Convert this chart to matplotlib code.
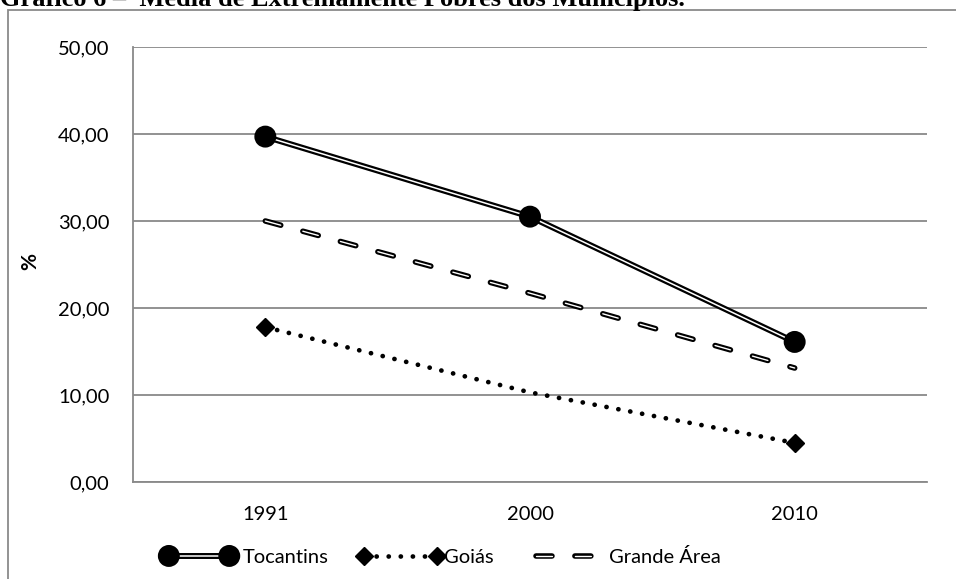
import matplotlib
matplotlib.use("Agg")
import matplotlib.pyplot as plt
import matplotlib.patheffects as pe
from matplotlib.ticker import FuncFormatter
from matplotlib.patches import Rectangle
from matplotlib.legend_handler import HandlerLine2D

plt.rcParams['lines.scale_dashes'] = False
plt.rcParams['font.family'] = ['Lato', 'DejaVu Sans']

categories = ["1991", "2000", "2010"]
tocantins = [39.7, 30.5, 16.1]
goias = [17.8, 10.3, 4.5]
grande_area = [30.0, 21.7, 13.1]
yticks = [0, 10, 20, 30, 40, 50]
title = "Gráfico 6 \u2013  Média de Extremamente Pobres dos Municípios."

W, H = 956, 579
fig = plt.figure(figsize=(W / 100, H / 100), dpi=100)
ax = fig.add_axes([133 / W, 1 - 482 / H, (927 - 133) / W, (482 - 47) / H])

x = list(range(len(categories)))

l1, = ax.plot(x, tocantins, color='white', lw=1.1, marker='o', markersize=11.5,
              markerfacecolor='black', markeredgecolor='black', solid_capstyle='butt',
              label='Tocantins', zorder=4,
              path_effects=[pe.Stroke(linewidth=4.3, foreground='black'), pe.Normal()])
l2, = ax.plot(x, goias, color='black', lw=3.4, dashes=(0.1, 8.6), dash_capstyle='round',
              marker='D', markersize=9.5, markevery=[0, 2],
              markerfacecolor='black', markeredgecolor='black',
              label='Goiás', zorder=3)
l3, = ax.plot(x, grande_area, color='white', lw=1.0, dashes=(11.5, 16.5), dash_capstyle='round',
              label='Grande Área', zorder=3,
              path_effects=[pe.Stroke(linewidth=4.0, foreground='black'), pe.Normal()])

ax.set_xlim(-0.5, len(categories) - 0.5)
ax.set_ylim(0, 50)
ax.set_yticks(yticks)
ax.yaxis.set_major_formatter(FuncFormatter(lambda v, p: f"{v:.2f}".replace('.', ',')))
ax.set_xticks(x)
ax.set_xticklabels(categories)
ax.grid(axis='y', color='#898989', lw=1.3)
ax.set_axisbelow(True)
for s in ['top', 'right']:
    ax.spines[s].set_visible(False)
for s in ['left', 'bottom']:
    ax.spines[s].set_color('#898989')
    ax.spines[s].set_linewidth(1.3)
ax.tick_params(axis='y', length=0, pad=17, labelsize=14.5, colors='black')
ax.tick_params(axis='x', length=0, pad=17, labelsize=14.5, colors='black')
ax.set_ylabel('%', fontsize=15, fontweight='bold', labelpad=0)
ax.yaxis.set_label_coords((40 - 133) / (927 - 133), (482 - 262) / (482 - 47))

leg = fig.legend(handles=[l1, l2, l3], loc='center', bbox_to_anchor=(442 / W, 1 - 557 / H),
                 ncol=3, frameon=False, fontsize=14.5, handlelength=3.6, handletextpad=0.35,
                 columnspacing=1.8, numpoints=2, borderpad=0,
                 handler_map={l2: HandlerLine2D(numpoints=2, marker_pad=0)})

# outer chart frame (cut off at right/bottom)
fig.patches.append(Rectangle((8 / W, -0.1), 1.2, 1 - 10 / H + 0.1, transform=fig.transFigure,
                             fill=False, edgecolor='#8a8a8a', lw=1.3, zorder=0))

t = fig.text(0, 1 - 6 / H, title, fontfamily='Liberation Serif', fontweight='bold',
             fontsize=18, va='baseline', ha='left')
fig.canvas.draw()
bb = t.get_window_extent()
t.set_fontsize(18 * 685 / bb.width)

fig.savefig('out.png', dpi=100)
